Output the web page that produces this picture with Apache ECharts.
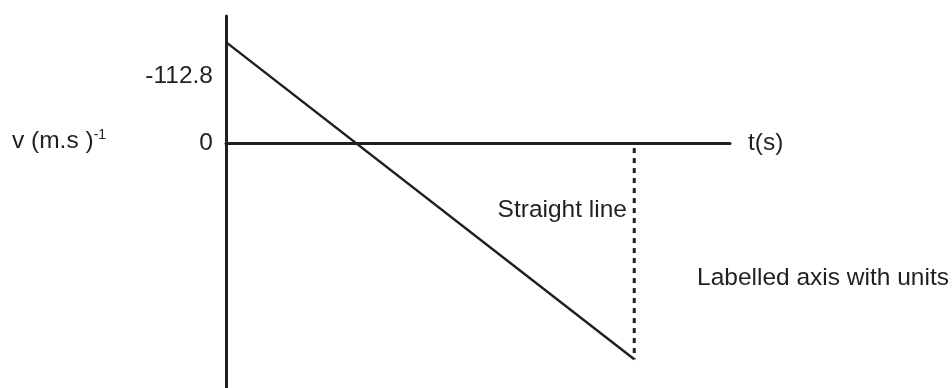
<!DOCTYPE html>
<html lang="en">
<head>
  <meta charset="UTF-8">
  <title>v-t graph</title>
  <script src="https://cdn.jsdelivr.net/npm/echarts@6/dist/echarts.min.js"></script>
</head>
<body style="margin:0">
<div id="main" style="width: 952px;height: 388px"></div>
<script>
  // straight line v(t), axis units
  const lineT = [0, 8.1];
  const lineV = [-170, 364];
  // dotted drop from the axis to the end of the line
  const dropT = [8.1, 8.1];
  const dropV = [0, 364];
  const yTickValues = [-112.8, 0];

  const ink = '#231f20';
  const font = 'Liberation Sans, Arial, sans-serif';

  var chart = echarts.init(document.getElementById('main'));
  var option = {
    animation: false,
    grid: {
      left: 226,
      right: 222,
      top: 16,
      bottom: 0
    },
    xAxis: {
      type: 'value',
      min: 0,
      max: 10,
      name: 't(s)',
      nameLocation: 'end',
      nameGap: 18,
      nameTextStyle: { color: ink, fontSize: 24.5, fontFamily: font, padding: [0, 0, 4, 0] },
      axisLine: { onZero: true, lineStyle: { color: ink, width: 3 } },
      axisTick: { show: false },
      axisLabel: { show: false },
      splitLine: { show: false }
    },
    yAxis: {
      type: 'value',
      inverse: true,
      min: -214,
      max: 412.6,
      axisLine: { show: true, lineStyle: { color: ink, width: 3 } },
      axisTick: { show: false },
      axisLabel: {
        customValues: yTickValues,
        color: ink,
        fontSize: 24.5,
        fontFamily: font,
        margin: 13,
        formatter: function (v) { return v === 0 ? '0' : String(v); }
      },
      splitLine: { show: false }
    },
    graphic: [
      {
        type: 'text',
        left: 12,
        top: 128,
        style: {
          text: '{m|v (m.s )}{s|-1}',
          fill: ink,
          font: '24.5px ' + font,
          rich: {
            m: { fontSize: 24.5, fontFamily: font, fill: ink, verticalAlign: 'bottom' },
            s: { fontSize: 14, fontFamily: font, fill: ink, verticalAlign: 'top', padding: [0, 0, 12, 0] }
          }
        }
      },
      {
        type: 'text',
        right: 952 - 627,
        top: 198,
        style: { text: 'Straight line', fill: ink, font: '24.5px ' + font }
      },
      {
        type: 'text',
        left: 697,
        top: 266,
        style: { text: 'Labelled axis with units', fill: ink, font: '24.5px ' + font }
      }
    ],
    series: [
      {
        type: 'line',
        data: lineT.map(function (t, i) { return [t, lineV[i]]; }),
        showSymbol: false,
        lineStyle: { color: ink, width: 2.5 }
      },
      {
        type: 'line',
        data: dropT.map(function (t, i) { return [t, dropV[i]]; }),
        showSymbol: false,
        lineStyle: { color: ink, width: 3, type: [5, 5], dashOffset: -5 }
      }
    ]
  };
  chart.setOption(option);
</script>
</body>
</html>
